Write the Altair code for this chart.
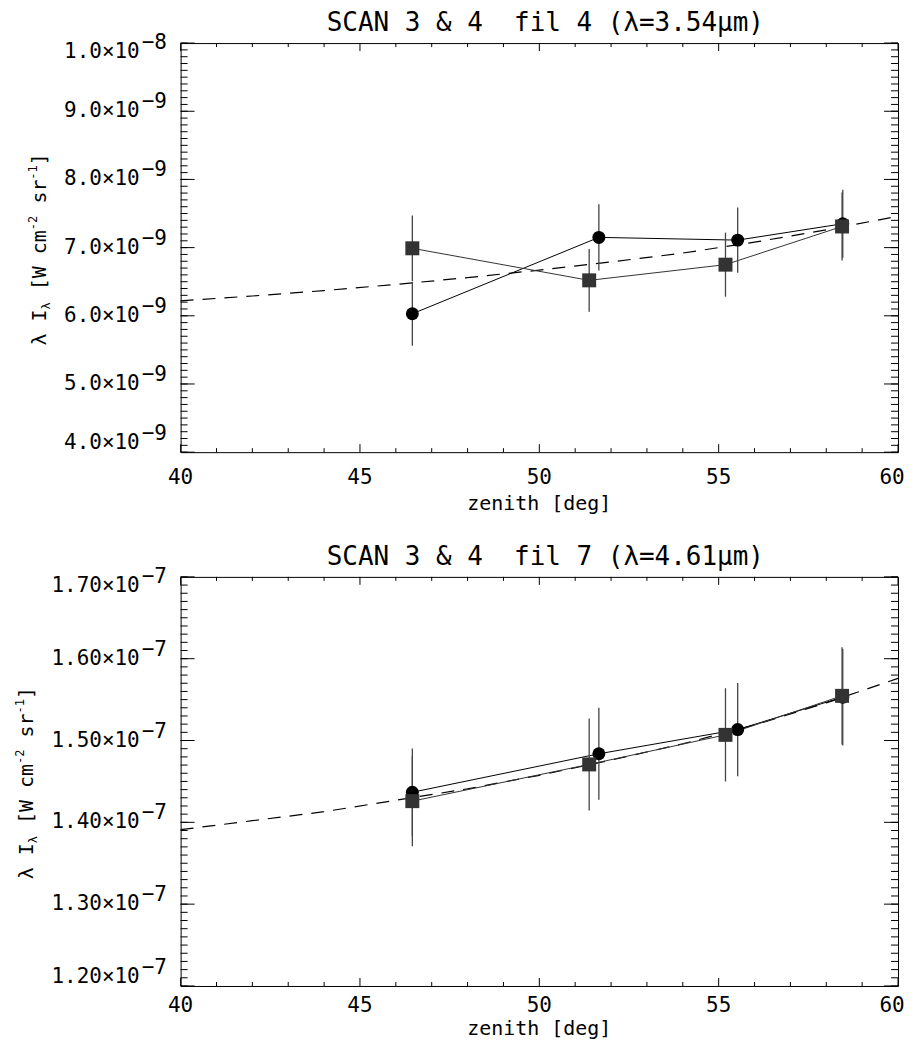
import altair as alt
import pandas as pd

FONT = "DejaVu Sans Mono"

# ---------------- data ----------------
zen_circ = [46.46, 51.66, 55.53, 58.46]
zen_sq = [46.46, 51.39, 55.19, 58.44]

# filter 4 (lambda = 3.54 um)
f4_circ = [6.03e-9, 7.15e-9, 7.11e-9, 7.35e-9]
f4_circ_err = [0.47e-9, 0.485e-9, 0.48e-9, 0.50e-9]
f4_sq = [6.99e-9, 6.52e-9, 6.75e-9, 7.31e-9]
f4_sq_err = [0.48e-9, 0.46e-9, 0.47e-9, 0.50e-9]

# filter 7 (lambda = 4.61 um)
f7_circ = [1.4368e-7, 1.4838e-7, 1.5134e-7, 1.553e-7]
f7_circ_err = [0.0535e-7, 0.0562e-7, 0.057e-7, 0.059e-7]
f7_sq = [1.4259e-7, 1.4708e-7, 1.5069e-7, 1.5546e-7]
f7_sq_err = [0.055e-7, 0.0562e-7, 0.057e-7, 0.0595e-7]

# dashed fit curves (read at these zenith angles)
fit_zen = [40, 42, 44, 46, 48, 50, 52, 54, 56, 58, 60]
f4_fit = [6.22e-9, 6.29e-9, 6.37e-9, 6.46e-9, 6.56e-9, 6.67e-9,
          6.79e-9, 6.92e-9, 7.08e-9, 7.26e-9, 7.46e-9]
f7_fit = [1.391e-7, 1.402e-7, 1.413e-7, 1.427e-7, 1.441e-7, 1.4575e-7,
          1.476e-7, 1.496e-7, 1.519e-7, 1.546e-7, 1.576e-7]

# axes ticks / labels
x_ticks = [40, 45, 50, 55, 60]
x_labels = ["40", "45", "50", "55", "60"]
x_minor = [41, 42, 43, 44, 46, 47, 48, 49, 51, 52, 53, 54, 56, 57, 58, 59]
x_title = "zenith [deg]"

f4_ticks = [4.0e-9, 5.0e-9, 6.0e-9, 7.0e-9, 8.0e-9, 9.0e-9, 1.0e-8]
f4_mant = ["4.0×10", "5.0×10", "6.0×10", "7.0×10", "8.0×10", "9.0×10", "1.0×10"]
f4_exp = ["−9", "−9", "−9", "−9", "−9", "−9", "−8"]

f7_ticks = [1.2e-7, 1.3e-7, 1.4e-7, 1.5e-7, 1.6e-7, 1.7e-7]
f7_mant = ["1.20×10", "1.30×10", "1.40×10", "1.50×10", "1.60×10", "1.70×10"]
f7_exp = ["−7", "−7", "−7", "−7", "−7", "−7"]

f4_minor = [4.0e-9 + i * 1e-10 for i in range(61)]
f7_minor = [1.2e-7 + i * 1e-9 for i in range(51)]

W, H = 719, 410


def panel(title, c_y, c_e, s_y, s_e, fit_y, ydom, yt, ymant, yexp, yminor,
          ytitle_x, lab_y, tit_y):
    xs = alt.Scale(domain=[40, 60], nice=False, zero=False)
    ys = alt.Scale(domain=ydom, nice=False, zero=False)

    circ = pd.DataFrame({"zen": zen_circ, "val": c_y,
                         "lo": [v - e for v, e in zip(c_y, c_e)],
                         "hi": [v + e for v, e in zip(c_y, c_e)]})
    sq = pd.DataFrame({"zen": zen_sq, "val": s_y,
                       "lo": [v - e for v, e in zip(s_y, s_e)],
                       "hi": [v + e for v, e in zip(s_y, s_e)]})
    fit = pd.DataFrame({"zen": fit_zen, "val": fit_y})

    def X():
        return alt.X("zen:Q", scale=xs, axis=None)

    def Y(f="val"):
        return alt.Y(f + ":Q", scale=ys, axis=None)

    layers = []
    layers.append(alt.Chart(fit).mark_line(color="black", strokeWidth=1.2,
                                           strokeDash=[13, 9]).encode(x=X(), y=Y()))
    layers.append(alt.Chart(circ).mark_line(color="black", strokeWidth=1).encode(x=X(), y=Y()))
    layers.append(alt.Chart(sq).mark_line(color="#333333", strokeWidth=1).encode(x=X(), y=Y()))
    layers.append(alt.Chart(circ).mark_rule(color="#444444", strokeWidth=1.3).encode(
        x=X(), y=Y("lo"), y2="hi:Q"))
    layers.append(alt.Chart(sq).mark_rule(color="#444444", strokeWidth=1.3).encode(
        x=X(), y=Y("lo"), y2="hi:Q"))
    layers.append(alt.Chart(circ).mark_circle(color="black", size=169, opacity=1).encode(
        x=X(), y=Y()))
    layers.append(alt.Chart(sq).mark_point(shape="square", filled=True, color="#333333",
                                           size=196, opacity=1).encode(x=X(), y=Y()))

    # inward ticks (box style)
    ymaj = pd.DataFrame({"v": yt})
    ymin_df = pd.DataFrame({"v": yminor})
    xmaj = pd.DataFrame({"v": x_ticks, "t": x_labels})
    xmin_df = pd.DataFrame({"v": x_minor})
    tk = dict(color="black", strokeWidth=1)
    YV = alt.Y("v:Q", scale=ys, axis=None)
    XV = alt.X("v:Q", scale=xs, axis=None)
    layers += [
        alt.Chart(ymaj).mark_rule(**tk).encode(y=YV, x=alt.value(0), x2=alt.value(14)),
        alt.Chart(ymaj).mark_rule(**tk).encode(y=YV, x=alt.value(W - 14), x2=alt.value(W)),
        alt.Chart(ymin_df).mark_rule(**tk).encode(y=YV, x=alt.value(0), x2=alt.value(7)),
        alt.Chart(ymin_df).mark_rule(**tk).encode(y=YV, x=alt.value(W - 7), x2=alt.value(W)),
        alt.Chart(xmaj).mark_rule(**tk).encode(x=XV, y=alt.value(H - 8), y2=alt.value(H)),
        alt.Chart(xmaj).mark_rule(**tk).encode(x=XV, y=alt.value(0), y2=alt.value(8)),
        alt.Chart(xmin_df).mark_rule(**tk).encode(x=XV, y=alt.value(H - 4), y2=alt.value(H)),
        alt.Chart(xmin_df).mark_rule(**tk).encode(x=XV, y=alt.value(0), y2=alt.value(4)),
    ]

    one = pd.DataFrame({"k": [0]})

    # panel title
    layers.append(alt.Chart(one).mark_text(
        text=title, align="center", baseline="alphabetic", font=FONT, fontSize=26,
        color="black").encode(x=alt.value(W / 2 + 6), y=alt.value(-12)))

    # x tick labels (last one nudged in so the page does not overflow) and x title
    nx = len(xmaj)
    for df, shift in [(xmaj.iloc[0:nx - 1], 0), (xmaj.iloc[[nx - 1]], -6)]:
        layers.append(alt.Chart(df).mark_text(align="center", baseline="alphabetic",
                                              font=FONT, fontSize=21, color="black",
                                              dx=shift).encode(
            x=XV, y=alt.value(H + lab_y), text="t:N"))
    layers.append(alt.Chart(one).mark_text(
        text=x_title, align="center", baseline="alphabetic", font=FONT, fontSize=20,
        color="black").encode(x=alt.value(W / 2), y=alt.value(H + tit_y)))

    # y tick labels: mantissa + raised exponent; end labels kept inside
    lab = pd.DataFrame({"v": yt, "m": ymant, "e": yexp})
    n = len(lab)
    parts = [(lab.iloc[[0]], -9), (lab.iloc[1:n - 1], 0), (lab.iloc[[n - 1]], 9)]
    for df, shift in parts:
        layers.append(alt.Chart(df).mark_text(align="right", baseline="middle", font=FONT,
                                              fontSize=21, color="black", dy=shift).encode(
            x=alt.value(-41), y=YV, text="m:N"))
        layers.append(alt.Chart(df).mark_text(align="left", baseline="middle", font=FONT,
                                              fontSize=21, color="black", dy=shift - 9).encode(
            x=alt.value(-39), y=YV, text="e:N"))

    # y title built from pieces (rotated, with sub/superscripts)
    pieces = [("λ I", 20, 0, 0), ("λ", 12, 36.1, 4), ("[W cm", 20, 55.3, 0),
              ("-2", 12, 115.5, -9), ("sr", 20, 142.1, 0), ("-1", 12, 166.1, -9),
              ("]", 20, 180.5, 0)]
    for txt, fs, off, sh in pieces:
        layers.append(alt.Chart(one).mark_text(text=txt, angle=270, align="left",
                                               baseline="alphabetic", font=FONT,
                                               fontSize=fs, color="black",
                                               dx=off, dy=sh).encode(
            x=alt.value(ytitle_x), y=alt.value(303)))

    return alt.layer(*layers).properties(width=W, height=H)


top = panel("SCAN 3 & 4\u00a0 fil 4 (λ=3.54μm)", f4_circ, f4_circ_err, f4_sq, f4_sq_err,
            f4_fit, [4.0e-9, 1.0e-8], f4_ticks, f4_mant, f4_exp, f4_minor, -135, 32, 58)
bottom = panel("SCAN 3 & 4\u00a0 fil 7 (λ=4.61μm)", f7_circ, f7_circ_err, f7_sq, f7_sq_err,
               f7_fit, [1.2e-7, 1.7e-7], f7_ticks, f7_mant, f7_exp, f7_minor, -148, 26, 49)

chart = alt.vconcat(top, bottom, spacing=28).properties(
    padding={"left": 5, "top": 0, "right": 0, "bottom": 0}
).configure_view(stroke="black", strokeWidth=1)

chart.save("out.html", embed_options={"renderer": "svg", "actions": False})
